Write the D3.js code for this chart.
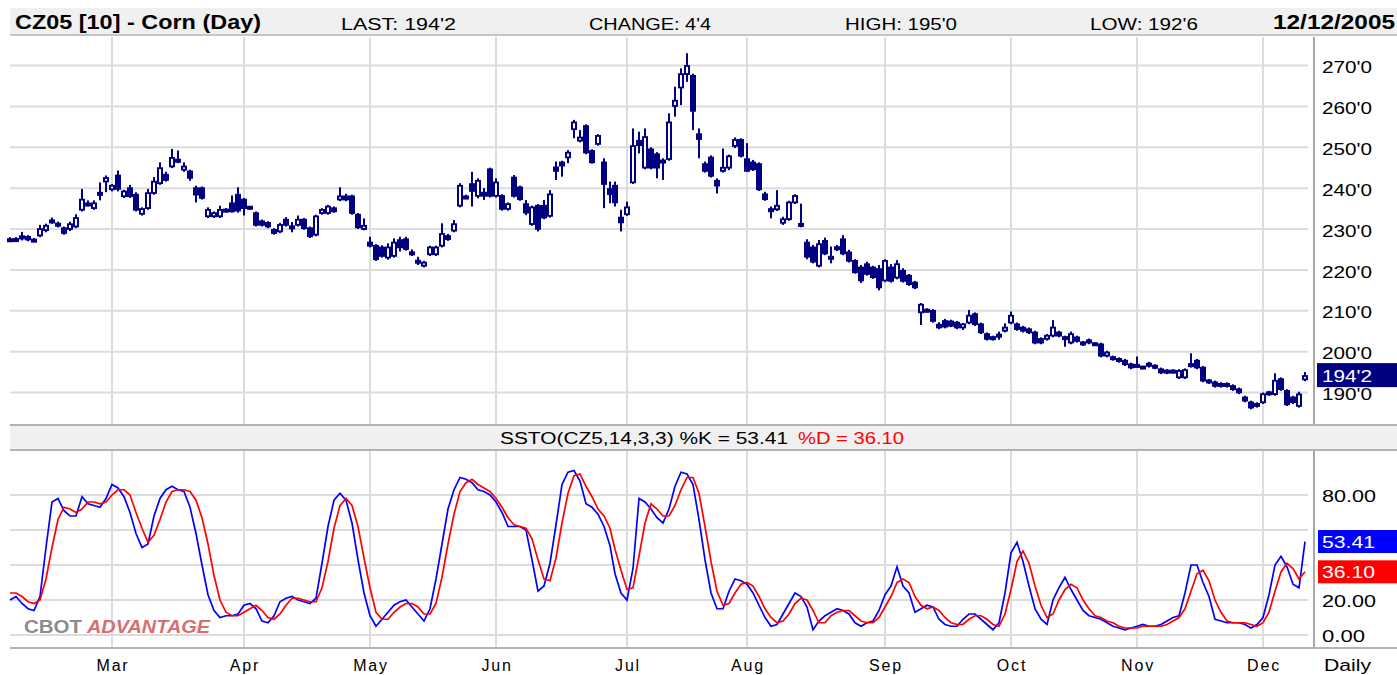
<!DOCTYPE html>
<html>
<head>
<meta charset="utf-8">
<script src="https://cdn.jsdelivr.net/npm/d3@7"></script>
<style>
  body { margin: 0; background: #fff; }
  svg { display: block; }
</style>
</head>
<body>
<script>
var width = 1397;
var height = 675;
var font = '"Liberation Sans", Arial, sans-serif';
var navy = "#000080";
var gridColor = "#dcdcdc";

// daily bars, [open, high, low, close]
var febBars = [
  [227.5,228,226.8,227],[227,228,226.8,227.6],[227.6,229.3,227.2,228.3],[228.3,228.5,227,227.2],
  [227.2,227.8,226.8,227.1],[228.2,231,228,230.2],[229.5,231.3,229.2,231],[232.2,232.8,231.3,231.5],
  [230.6,231.8,230.4,231.5],[230.4,230.6,228.6,228.8],[229.8,231.8,229.5,231.4],[230.4,233.6,230.2,232.9],
  [234.5,239.8,234.3,237.4],[236.4,237,235.5,235.6],[234.9,237,234.7,236.5],[238.2,241.4,237,239],
  [241.4,243.1,239,242.7]
];
var marBars = [
  [239.5,241,239.2,240.8],[243.3,244.3,239.2,239.6],[237.8,239.6,237.6,239.4],[240.2,240.8,237.6,237.8],
  [238.6,239,234.3,234.5],[233.5,235.3,233.3,235.1],[234.9,239.8,234.7,239],[238.6,242.7,238.4,241.8],
  [241,246.3,240.8,245.1],[243.5,244,241.6,241.8],[245.1,249.6,244.9,247.6],[247.1,249.2,246.1,246.3],
  [244.3,246.3,244,245.5],[244.3,244.5,241.8,242.3],[240.2,240.6,236.5,238.2],[240.2,240.4,237.2,237.4],
  [232.9,235.3,232.7,234.9],[232.9,234.3,232.7,234.1],[232.9,235.7,232.7,234.9],[234.9,235.1,234,234.1],
  [236.5,238.2,234,234.1],[238.6,240.2,234,234.3]
];
var aprBars = [
  [237.4,237.6,233.3,234.9],[235.1,235.5,234.7,235.3],[234.1,234.3,230.6,230.8],[232.1,232.3,230.6,230.8],
  [231.7,231.9,230.2,230.4],[230,230.2,228.6,228.8],[229.2,231.5,229,231.2],[232.5,232.9,230.6,230.8],
  [230.6,231.7,229.2,230.2],[230.8,233.3,230.6,232.5],[232.5,232.7,229.8,230],[230.4,230.6,227.8,228],
  [228.4,233.5,228.2,233.3],[233.7,235.1,233.5,234.9],[233.7,235.9,233.5,235.7],[235.3,235.5,234,234.1],
  [237,240.2,236.8,238.2],[238.2,238.6,236.8,237],[238.2,238.4,233.5,233.7],[233.7,233.9,230,230.2],
  [229.8,232.6,229.7,231]
];
var mayBars = [
  [226.9,228.1,225.5,225.7],[226.1,226.3,222.2,222.4],[225.7,226,223,223.2],[222.8,226.5,222.5,225.7],
  [223.2,227.7,223,226.9],[227.5,228.1,224.5,225.3],[227.7,228.1,224.7,224.9],[224.5,225,223.4,223.6],
  [222.4,223.2,221.2,221.6],[220.8,222.2,220.6,222],[223.6,225.9,223.4,225.7],[223.6,225.9,223.4,225.7],
  [225.7,231.4,225.5,229],[228.5,228.8,227.1,227.3],[229.4,232.2,229.2,231.4],[235.5,241.2,235.3,240.8],
  [237.9,238.4,237.3,237.5],[241.2,244,235.5,239.1],[237.9,242.4,237.5,242],[239.1,240,237.1,237.9],
  [244.8,245,237.7,237.9]
];
var junBars = [
  [237.9,242.4,237.7,241.6],[238.3,238.5,234.5,234.7],[234.7,236.5,234.5,236.3],[242.8,243.2,237.7,237.9],
  [240.4,240.6,236.9,237.1],[236.3,237.1,233.4,233.8],[231,235.7,230.8,235.5],[235.9,236.1,229.4,229.8],
  [235.9,237.1,232.4,232.6],[233,239.5,232.8,238.7],[245.3,246.5,242,244],[246.5,246.7,242.8,245.3],
  [247.3,249.3,246.1,248.9],[254.2,256.7,252.2,256.3],[251.4,254.2,251.2,252.6],[255.4,255.6,248.3,248.5],
  [249.3,249.5,246,246.1],[250.6,253.2,250.4,253],[246.5,247.3,235.1,240.8],[240,241.6,236.3,238.3],
  [240.8,241.6,235.5,236.3],[233,234.7,229.4,231.4]
];
var julBars = [
  [233.4,236.7,233.2,235.5],[241.2,254.6,241,250.5],[251.8,253.8,248.5,250.3],[244.8,254.6,244.6,252.7],
  [249.7,250,244.6,244.8],[248.5,248.8,242.4,244.8],[246.1,247.3,242,246.9],[246.9,258.3,246.7,256.3],
  [259.9,264.8,257.5,261.6],[264.4,269.3,260.3,268.1],[267.7,273,266,270.1],[267.7,268,254.2,258.7],
  [253.4,254.6,247.3,251.8],[246.1,246.5,243.8,244],[247.7,248,242.6,242.8],[242,242.4,238.7,240.4],
  [244,249.7,243.8,245.2],[244.8,248.2,244.4,248],[250.1,252.4,249.8,252],[252,252.2,247.5,247.7]
];
var augBars = [
  [247.3,251,244,244],[246.5,246.9,244.2,244.4],[246.1,246.3,239.3,239.5],[238.7,239.1,236.9,237.1],
  [235,235.5,232.6,234.2],[234.6,239.5,234.4,235.9],[231.3,233,231,232.6],[232.2,236.9,232,236.7],
  [236.3,238.5,236.1,238.3],[231.4,236.2,230.4,230.6],[226.9,227.5,222.6,223],[225.7,226.1,221.6,221.8],
  [220.8,227.3,220.6,226.5],[227.3,227.9,223.6,223.8],[223.3,225.7,221.6,222.6],[224.9,226.1,224.6,225.7],
  [227.7,228.5,223.6,223.8],[224.5,224.9,221.8,222],[222.4,222.6,219.1,219.2],[220.8,221.2,216.8,217.2],
  [221.6,222,218.6,218.8],[220.8,221,217.8,218],[220.4,221.2,215,215.5]
];
var sepBars = [
  [217.2,222.6,217,222.4],[220.8,221.4,216.9,217.1],[217.9,222.4,217.7,221.6],[220,220.4,216.9,217.1],
  [218.8,219,216.1,216.3],[217.1,217.3,215.3,215.5],[209.4,211.9,206.5,211.7],[210.2,210.6,209.6,209.8],
  [210.2,210.4,207.1,207.3],[206.8,207.2,205.5,205.7],[207.7,208,205.7,205.9],[207.6,207.8,206,206.1],
  [207.3,207.5,205.5,205.7],[205.7,207,205.3,206.9],[206.9,210.2,206.7,209],[209.4,209.6,206.3,206.5],
  [206.9,207.1,204.3,204.5],[204.5,204.7,202.7,202.9],[203.7,203.9,202.7,202.9],[203.7,204.9,202.9,204.1],
  [204.9,206.9,204.7,206.1]
];
var octBars = [
  [206.9,209.8,206.7,209],[206.9,207.1,205.1,205.3],[206.1,206.3,204.7,204.9],[205.7,205.9,204.3,204.5],
  [204.9,205.1,201.8,202],[203.3,203.5,201.8,202],[202.9,204.3,202.7,204.1],[203.7,207.7,203.5,206.1],
  [204.9,205.1,203.5,203.7],[203.7,203.9,201.2,202.9],[202,204.9,201.8,204.5],[203.7,203.9,202.2,202.4],
  [202.4,202.6,201.4,201.6],[202,203.2,201.8,203],[202,202.2,201.4,201.6],[202,202.2,198.6,198.8],
  [198.8,200.2,198.6,200],[198.8,199,197.8,198],[198.4,198.6,197.3,197.5],[198,198.2,196.5,196.7],
  [197.1,197.3,195.7,195.9]
];
var novBars = [
  [196.3,198.8,196.1,196.7],[196.3,196.5,195.7,195.9],[196.3,197.5,196.1,197.3],[196.7,196.9,195.7,195.9],
  [195.9,196.1,194.5,194.7],[195.5,195.7,194.5,194.7],[194.9,195.7,194.7,195.3],[193.5,195.7,193.3,195.5],
  [193.5,195.9,193.3,195.7],[196.3,199.6,196.1,197.1],[198,198.2,195.7,195.9],[196.3,196.5,192.5,192.7],
  [193.1,193.3,192.1,192.3],[192.7,192.9,191.2,191.4],[192.3,192.5,191.2,191.4],[191.4,192.5,191.2,192.3],
  [191.8,192,190.4,190.6],[191,191.2,189.6,189.8],[189,189.2,187.6,187.8],[187.8,188,185.9,186.1],
  [186.5,187.6,186.3,187.4]
];
var decBars = [
  [187.4,190,187.2,189.8],[189.4,190.4,189.2,190.2],[189.4,194.7,189.2,193.1],[193.5,193.7,190.4,190.6],
  [190.6,190.8,186.7,186.9],[189,189.2,187.2,187.4],[186.5,190.2,186.3,189.75],[193,195,192.75,194.25]
];

// slow stochastic %K and %D, one value per bar
var kValues = [
  20,22,18,15,14,22,50,76,78,71,68,68,79,75,74,73,78,
  86,84,79,70,58,50,52,68,78,83,85,83,82,73,58,40,23,14,10,11,11,12,
  17,18,15,8,7,11,19,21,22,20,19,18,21,41,62,77,81,77,64,43,24,
  11,5,9,13,17,19,20,16,12,8,15,32,52,72,83,90,89,87,83,82,80,
  76,70,62,62,62,60,43,25,28,41,63,86,93,94,88,75,73,69,62,51,35,24,
  20,38,78,76,72,67,64,72,85,93,92,86,66,43,24,15,15,25,32,31,
  29,24,17,10,5,6,12,18,24,22,16,3,8,11,13,15,14,12,7,5,7,8,14,
  23,28,39,28,24,13,15,17,16,9,6,5,5,9,12,12,9,6,3,7,24,
  47,53,42,28,15,9,6,20,27,33,26,20,14,11,10,9,7,5,4,3,4,
  5,6,5,5,6,8,10,11,24,40,40,30,22,9,8,7,7,7,6,4,6,
  10,23,40,45,39,29,27,53.41
];
var dValues = [
  24,24,22,19,18,20,32,50,66,73,72,70,72,76,76,75,76,
  80,83,83,80,70,61,53,57,66,76,82,83,83,82,77,67,52,34,20,13,11,11,
  13,15,17,14,10,9,12,17,21,21,20,19,19,27,42,61,74,78,74,62,44,
  27,13,9,9,13,16,18,18,16,12,12,18,33,52,69,82,87,89,86,84,82,
  78,73,67,63,62,61,55,43,32,31,44,64,81,91,92,85,79,72,68,61,49,37,
  26,27,45,64,75,72,68,68,74,83,90,90,81,62,42,25,17,18,24,29,
  30,28,22,15,10,7,8,12,18,21,20,14,7,7,11,13,14,14,11,8,7,7,10,
  16,22,30,32,30,22,17,15,16,14,10,7,6,6,9,11,11,9,6,5,12,
  26,42,48,41,28,17,10,12,20,26,29,27,20,15,11,10,8,7,5,4,4,
  4,5,5,5,5,6,8,10,15,25,35,37,31,20,13,8,7,7,7,6,5,
  7,13,25,36,41,38,32,36.1
];

var monthNames = ["Mar", "Apr", "May", "Jun", "Jul", "Aug", "Sep", "Oct", "Nov", "Dec"];
var monthStarts = [17, 39, 60, 81, 103, 123, 146, 167, 188, 209];
var priceTicks = [190, 200, 210, 220, 230, 240, 250, 260, 270];
var stochTicks = [0, 20, 40, 60, 80];
var headerStats = ["LAST: 194'2", "CHANGE: 4'4", "HIGH: 195'0", "LOW: 192'6"];
var lastK = 53.41;
var lastD = 36.10;

var bars = [].concat(febBars, marBars, aprBars, mayBars, junBars, julBars,
  augBars, sepBars, octBars, novBars, decBars);
var lastClose = bars[bars.length - 1][3];

// prices are quoted in eighths: 194.25 -> 194'2
function fmtPrice(v) {
  var whole = Math.floor(v);
  return whole + "'" + Math.round((v - whole) * 8);
}

var x = d3.scaleLinear().domain([0, bars.length - 1]).range([9, 9 + (bars.length - 1) * 5.995]);
var yP = d3.scaleLinear().domain([190, 270]).range([392.5, 65.5]);
var yS = d3.scaleLinear().domain([0, 80]).range([635, 495]);

function cx(i) {
  return Math.round(x(i));
}

var svg = d3.select("body").append("svg")
  .attr("width", width)
  .attr("height", height)
  .attr("font-family", font);

// header band
svg.append("rect").attr("x", 10).attr("y", 8).attr("width", width - 10).attr("height", 27).attr("fill", "#f0f0f0");
svg.append("rect").attr("x", 10).attr("y", 34).attr("width", width - 10).attr("height", 2).attr("fill", "#c4c4c4");

svg.append("text").attr("x", 15).attr("y", 29)
  .attr("font-size", 21).attr("font-weight", "bold")
  .attr("textLength", 246).attr("lengthAdjust", "spacingAndGlyphs")
  .text("CZ05 [10] - Corn (Day)");

var statX = [341, 589, 845, 1090];
var statW = [115, 122, 112, 108];
svg.selectAll(".stat").data(headerStats).enter().append("text")
  .attr("class", "stat")
  .attr("x", function (d, i) { return statX[i]; })
  .attr("y", 30)
  .attr("font-size", 16)
  .attr("textLength", function (d, i) { return statW[i]; })
  .attr("lengthAdjust", "spacingAndGlyphs")
  .text(function (d) { return d; });

svg.append("text").attr("x", 1273).attr("y", 29)
  .attr("font-size", 21).attr("font-weight", "bold")
  .attr("textLength", 122).attr("lengthAdjust", "spacingAndGlyphs")
  .text("12/12/2005");

// price panel grid
var priceGrid = svg.append("g");
priceGrid.selectAll("line.h").data(priceTicks).enter().append("line")
  .attr("x1", 10).attr("x2", 1308)
  .attr("y1", function (d) { return yP(d); })
  .attr("y2", function (d) { return yP(d); })
  .attr("stroke", gridColor).attr("stroke-width", 2);
priceGrid.selectAll("line.v").data(monthStarts).enter().append("line")
  .attr("x1", function (d) { return cx(d) + 1; })
  .attr("x2", function (d) { return cx(d) + 1; })
  .attr("y1", 37).attr("y2", 424)
  .attr("stroke", gridColor).attr("stroke-width", 2);

// candles: 6px bodies, hollow when the close is above the open
var candle = svg.append("g").selectAll("g").data(bars).enter().append("g")
  .attr("transform", function (d, i) { return "translate(" + cx(i) + ",0)"; });

candle.append("rect")
  .attr("x", 0).attr("width", 2)
  .attr("y", function (d) { return yP(d[1]); })
  .attr("height", function (d) { return Math.max(1, yP(d[2]) - yP(d[1])); })
  .attr("fill", navy);

function bodyH(d) {
  return Math.max(4, Math.abs(yP(d[0]) - yP(d[3])));
}
function bodyTop(d) {
  var mid = (yP(d[0]) + yP(d[3])) / 2;
  return mid - bodyH(d) / 2;
}

candle.append("rect")
  .attr("x", -2).attr("width", 6)
  .attr("y", bodyTop)
  .attr("height", bodyH)
  .attr("fill", navy);

candle.filter(function (d) { return d[3] > d[0] && bodyH(d) > 4.5; })
  .append("rect")
  .attr("x", 0).attr("width", 2)
  .attr("y", function (d) { return bodyTop(d) + 1.8; })
  .attr("height", function (d) { return bodyH(d) - 3.6; })
  .attr("fill", "#fff");

// price axis
svg.append("rect").attr("x", 1313).attr("y", 37).attr("width", 2).attr("height", 388).attr("fill", "#a8a8a8");

var priceAxis = d3.axisRight(yP).tickValues(priceTicks).tickSize(0).tickPadding(0).tickFormat(fmtPrice);
var pa = svg.append("g").attr("transform", "translate(1322,0)").call(priceAxis);
pa.select(".domain").remove();
pa.attr("font-size", 17).attr("font-family", font);
pa.selectAll("text")
  .attr("fill", "#000")
  .attr("dy", "0.42em")
  .attr("textLength", 50).attr("lengthAdjust", "spacingAndGlyphs");

svg.append("rect").attr("x", 1317).attr("y", yP(lastClose) - 12).attr("width", 80).attr("height", 24).attr("fill", navy);
svg.append("text").attr("x", 1322).attr("y", yP(lastClose) + 7)
  .attr("font-size", 17).attr("fill", "#fff")
  .attr("textLength", 50).attr("lengthAdjust", "spacingAndGlyphs")
  .text(fmtPrice(lastClose));

// indicator title band
svg.append("rect").attr("x", 10).attr("y", 424).attr("width", width - 10).attr("height", 2).attr("fill", "#b4b4b4");
svg.append("rect").attr("x", 10).attr("y", 426).attr("width", width - 10).attr("height", 23).attr("fill", "#f0f0f0");
svg.append("rect").attr("x", 10).attr("y", 449).attr("width", width - 10).attr("height", 2).attr("fill", "#b4b4b4");

svg.append("text").attr("x", 500).attr("y", 444)
  .attr("font-size", 16)
  .attr("textLength", 288).attr("lengthAdjust", "spacingAndGlyphs")
  .text("SSTO(CZ5,14,3,3) %K = " + lastK.toFixed(2));
svg.append("text").attr("x", 798).attr("y", 444)
  .attr("font-size", 16).attr("fill", "#ff0000")
  .attr("textLength", 106).attr("lengthAdjust", "spacingAndGlyphs")
  .text("%D = " + lastD.toFixed(2));

// stochastic panel grid
var stochGrid = svg.append("g");
stochGrid.selectAll("line.h").data(stochTicks).enter().append("line")
  .attr("x1", 10).attr("x2", 1308)
  .attr("y1", function (d) { return yS(d); })
  .attr("y2", function (d) { return yS(d); })
  .attr("stroke", gridColor).attr("stroke-width", 2);
stochGrid.selectAll("line.v").data(monthStarts).enter().append("line")
  .attr("x1", function (d) { return cx(d) + 1; })
  .attr("x2", function (d) { return cx(d) + 1; })
  .attr("y1", 451).attr("y2", 647)
  .attr("stroke", gridColor).attr("stroke-width", 2);

// watermark
svg.append("text").attr("x", 24).attr("y", 633)
  .attr("font-size", 19).attr("font-weight", "bold").attr("fill", "#8c8c8c")
  .attr("textLength", 58).attr("lengthAdjust", "spacingAndGlyphs")
  .text("CBOT");
svg.append("text").attr("x", 87).attr("y", 633)
  .attr("font-size", 19).attr("font-weight", "bold").attr("font-style", "italic").attr("fill", "#d67070")
  .attr("textLength", 123).attr("lengthAdjust", "spacingAndGlyphs")
  .text("ADVANTAGE");

var stochLine = d3.line()
  .x(function (d, i) { return cx(i) + 1; })
  .y(function (d) { return yS(d); });

svg.append("path").attr("d", stochLine(kValues))
  .attr("fill", "none").attr("stroke", "#0000ff").attr("stroke-width", 1.7);
svg.append("path").attr("d", stochLine(dValues))
  .attr("fill", "none").attr("stroke", "#ff0000").attr("stroke-width", 1.7);

// stochastic axis
svg.append("rect").attr("x", 1313).attr("y", 451).attr("width", 2).attr("height", 197).attr("fill", "#a8a8a8");
svg.append("rect").attr("x", 10).attr("y", 647).attr("width", width - 10).attr("height", 2).attr("fill", "#b4b4b4");

var boxes = [
  { v: lastK, color: "#0000ff" },
  { v: lastD, color: "#ff0000" }
];

// labels that would sit under the value boxes stay hidden, as in the source
var visibleStochTicks = stochTicks.filter(function (t) {
  return boxes.every(function (b) { return Math.abs(yS(t) - yS(b.v)) > 16; });
});
var stochAxis = d3.axisRight(yS).tickValues(visibleStochTicks).tickSize(0).tickPadding(0)
  .tickFormat(function (d) { return d.toFixed(2); });
var sa = svg.append("g").attr("transform", "translate(1322,0)").call(stochAxis);
sa.select(".domain").remove();
sa.attr("font-size", 16).attr("font-family", font);
sa.selectAll("text")
  .attr("fill", "#000")
  .attr("dy", "0.4em")
  .attr("textLength", function (d) { return d === 0 ? 43 : 54; })
  .attr("lengthAdjust", "spacingAndGlyphs");

svg.selectAll(".vbox").data(boxes).enter().append("rect")
  .attr("class", "vbox")
  .attr("x", 1318).attr("width", 79)
  .attr("y", function (d) { return yS(d.v) - 11.5; })
  .attr("height", 23)
  .attr("fill", function (d) { return d.color; });
svg.selectAll(".vlab").data(boxes).enter().append("text")
  .attr("class", "vlab")
  .attr("x", 1322)
  .attr("y", function (d) { return yS(d.v) + 6.5; })
  .attr("font-size", 16).attr("fill", "#fff")
  .attr("textLength", 53).attr("lengthAdjust", "spacingAndGlyphs")
  .text(function (d) { return d.v.toFixed(2); });

// month axis
var monthAxis = d3.axisBottom(x).tickValues(monthStarts).tickSize(0).tickPadding(0)
  .tickFormat(function (d, i) { return monthNames[i]; });
var ma = svg.append("g").attr("transform", "translate(0,660)").call(monthAxis);
ma.select(".domain").remove();
ma.attr("font-size", 16).attr("font-family", font);
ma.selectAll("text").attr("fill", "#000").attr("letter-spacing", 1.8);
ma.selectAll(".tick").attr("transform", function (d) { return "translate(" + (cx(d) + 2) + ",0)"; });

svg.append("text").attr("x", 1324).attr("y", 671)
  .attr("font-size", 16)
  .attr("textLength", 47).attr("lengthAdjust", "spacingAndGlyphs")
  .text("Daily");
</script>
</body>
</html>
